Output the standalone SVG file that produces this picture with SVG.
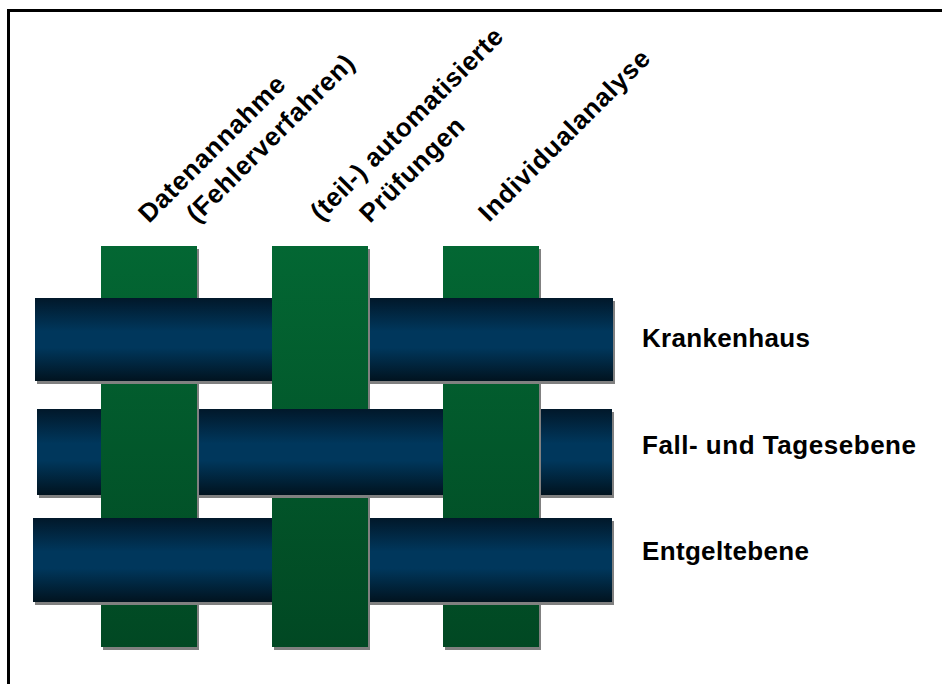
<svg xmlns="http://www.w3.org/2000/svg" width="942" height="684" viewBox="0 0 942 684">
<style>
.sh{fill:#808080}
.col{fill:url(#gcol)}
.band{fill:url(#gband)}
.lbl{font-family:"Liberation Sans",Arial,sans-serif;font-weight:bold;font-size:26px;fill:#000}
</style>
<defs>
<linearGradient id="gcol" gradientUnits="userSpaceOnUse" x1="0" y1="246" x2="0" y2="647">
<stop offset="0" stop-color="#036733"/>
<stop offset="1" stop-color="#014823"/>
</linearGradient>
<linearGradient id="gband" x1="0" y1="0" x2="0" y2="1">
<stop offset="0" stop-color="#01182a"/>
<stop offset="0.4" stop-color="#00375c"/>
<stop offset="0.6" stop-color="#00375c"/>
<stop offset="1" stop-color="#01131f"/>
</linearGradient>
</defs>
<rect width="942" height="684" fill="#fff"/>
<path d="M8.5,684 V10.5 H942" fill="none" stroke="#000" stroke-width="3"/>

<g id="column-2">
<rect class="sh" x="274" y="249" width="96" height="401"/>
<rect class="col" x="272" y="246" width="96" height="401"/>
</g>
<g id="band-fall">
<rect class="sh" x="39" y="412" width="575" height="86"/>
<rect class="band" x="37" y="409" width="575" height="86"/>
</g>
<g id="column-1">
<rect class="sh" x="103" y="249" width="96" height="401"/>
<rect class="col" x="101" y="246" width="96" height="401"/>
</g>
<g id="column-3">
<rect class="sh" x="445" y="249" width="96" height="401"/>
<rect class="col" x="443" y="246" width="96" height="401"/>
</g>
<g id="band-krankenhaus">
<rect class="sh" x="37" y="301" width="578" height="83"/>
<rect class="band" x="35" y="298" width="578" height="83"/>
</g>
<g id="band-entgelt">
<rect class="sh" x="35" y="521" width="579" height="84"/>
<rect class="band" x="33" y="518" width="579" height="84"/>
</g>
<g id="column-2-over">
<rect class="sh" x="368" y="290" width="2" height="110"/>
<rect class="col" x="272" y="290" width="96" height="110"/>
<rect class="sh" x="368" y="500" width="2" height="150"/>
<rect class="col" x="272" y="500" width="96" height="147"/>
</g>

<g id="labels-top">
<text class="lbl" transform="translate(149,224) rotate(-45)" textLength="195">Datenannahme</text>
<text class="lbl" transform="translate(197,224) rotate(-45)" textLength="225">(Fehlerverfahren)</text>
<text class="lbl" transform="translate(321,222) rotate(-45)" textLength="260">(teil-) automatisierte</text>
<text class="lbl" transform="translate(370,224) rotate(-45)" textLength="136">Prüfungen</text>
<text class="lbl" transform="translate(489,223) rotate(-45)" textLength="230">Individualanalyse</text>
</g>
<g id="labels-right">
<text class="lbl" x="642" y="347" textLength="168">Krankenhaus</text>
<text class="lbl" x="642" y="454" textLength="274">Fall- und Tagesebene</text>
<text class="lbl" x="642" y="560" textLength="167">Entgeltebene</text>
</g>
</svg>
